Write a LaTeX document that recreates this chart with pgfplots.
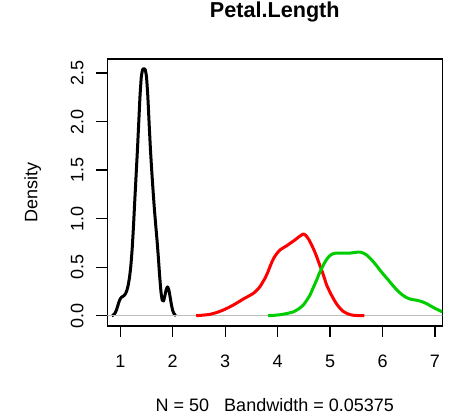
\documentclass[border=0pt]{standalone}
\usepackage{fontspec}
\setmainfont{Liberation Sans}
\usepackage{pgfplots}
\pgfplotsset{compat=1.18}
\definecolor{rgreen}{HTML}{00CD00}
\definecolor{rgray}{HTML}{BEBEBE}

\begin{document}
\begin{tikzpicture}[font=\fontsize{18}{22}\selectfont]
\path[use as bounding box] (-107.3pt,-90pt) rectangle (346.7pt,326pt);
\begin{axis}[
  at={(0pt,0pt)}, anchor=south west,
  scale only axis, width=335pt, height=267pt,
  xmin=0.752, xmax=7.14, ymin=-0.106, ymax=2.644,
  xtick={1,...,7}, xticklabels={1,2,3,4,5,6,7},
  ytick={0,0.5,1,1.5,2,2.5}, yticklabels={0.0,0.5,1.0,1.5,2.0,2.5},
  tick align=outside, major tick length=10.8pt,
  xtick pos=bottom, ytick pos=left,
  tick style={black, line width=1.3pt},
  axis line style={line width=1.3pt},
  xticklabel style={anchor=base, yshift=-30.2pt},
  yticklabel style={xshift=-13.2pt, rotate=90, anchor=base},
  title={Petal.Length},
  title style={at={(axis description cs:0.5,1.133)}, anchor=base, font=\fontsize{21.6}{26}\selectfont\bfseries},
  xlabel={N = 50\ \ \ Bandwidth = 0.05375},
  xlabel style={at={(axis description cs:0.5,-0.3184)}, anchor=base},
  ylabel={Density},
  ylabel style={at={(axis description cs:-0.2084,0.5)}, anchor=base},
]
% setosa
\addplot[black, line width=3pt, line join=round, smooth, tension=0.3] coordinates {
(0.839,0.002)(0.85,0.003)(0.875,0.011)(0.9,0.027)(0.925,0.057)(0.95,0.099)(0.975,0.143)
(1.0,0.175)(1.025,0.191)(1.05,0.199)(1.075,0.209)(1.1,0.228)(1.125,0.260)(1.15,0.313)
(1.175,0.393)(1.2,0.509)(1.225,0.678)(1.25,0.909)(1.275,1.175)(1.3,1.435)(1.325,1.691)
(1.35,1.971)(1.375,2.255)(1.4,2.456)(1.425,2.535)(1.45,2.546)(1.475,2.535)(1.5,2.457)
(1.525,2.256)(1.55,1.977)(1.575,1.711)(1.6,1.488)(1.625,1.286)(1.65,1.098)(1.675,0.935)
(1.7,0.780)(1.725,0.604)(1.75,0.412)(1.775,0.249)(1.8,0.159)(1.825,0.152)(1.85,0.205)
(1.875,0.269)(1.9,0.297)(1.925,0.266)(1.95,0.193)(1.975,0.112)(2.0,0.053)(2.025,0.020)
(2.05,0.006)(2.061,0.003)
};
% zero line
\addplot[rgray, line width=1.5pt] coordinates {(0.6,0) (7.3,0)};
% versicolor
\addplot[red, line width=3pt, line join=round, smooth, tension=0.3] coordinates {
(2.447,0)(2.6,0.007)(2.71,0.014)(2.85,0.035)(2.965,0.059)(3.06,0.083)(3.155,0.11)
(3.25,0.14)(3.345,0.172)(3.44,0.2)(3.536,0.23)(3.6,0.26)(3.663,0.299)(3.71,0.34)
(3.759,0.385)(3.81,0.445)(3.854,0.505)(3.9,0.565)(3.95,0.615)(4.0,0.65)(4.045,0.677)
(4.1,0.697)(4.172,0.72)(4.25,0.75)(4.33,0.78)(4.4,0.81)(4.458,0.832)(4.49,0.842)
(4.54,0.826)(4.6,0.78)(4.649,0.728)(4.7,0.668)(4.745,0.608)(4.79,0.54)(4.84,0.47)
(4.89,0.39)(4.935,0.316)(5.0,0.24)(5.06,0.179)(5.12,0.125)(5.19,0.076)(5.25,0.045)
(5.316,0.025)(5.38,0.012)(5.44,0.005)(5.55,0.001)(5.653,0)
};
% virginica
\addplot[rgreen, line width=3pt, line join=round, smooth, tension=0.3] coordinates {
(3.82,0)(3.95,0.005)(4.045,0.01)(4.17,0.022)(4.30,0.04)(4.4,0.07)(4.49,0.11)
(4.55,0.155)(4.617,0.213)(4.68,0.29)(4.745,0.368)(4.79,0.43)(4.84,0.488)(4.89,0.54)
(4.935,0.58)(4.98,0.61)(5.03,0.632)(5.09,0.643)(5.2,0.644)(5.3,0.644)(5.38,0.645)
(5.48,0.652)(5.57,0.656)(5.64,0.643)(5.698,0.625)(5.76,0.593)(5.824,0.556)(5.89,0.513)
(5.95,0.47)(6.03,0.418)(6.11,0.368)(6.19,0.316)(6.27,0.268)(6.36,0.222)(6.46,0.186)
(6.55,0.168)(6.65,0.16)(6.75,0.145)(6.84,0.125)(6.92,0.1)(7.0,0.076)(7.07,0.058)
(7.14,0.04)(7.25,0.02)
};
\end{axis}
\end{tikzpicture}
\end{document}
